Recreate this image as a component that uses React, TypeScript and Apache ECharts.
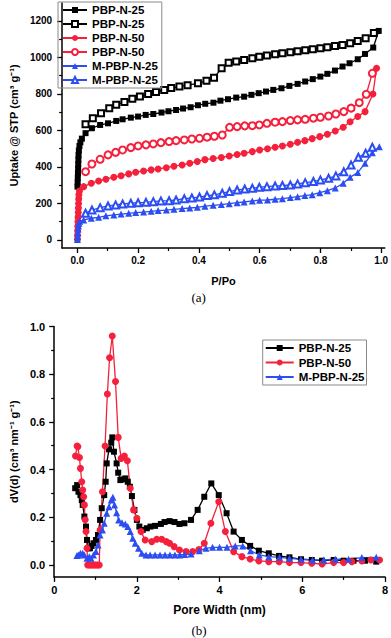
import React, { useEffect, useRef } from 'react';
import * as echarts from 'echarts';

// ---------- (a) N2 isotherms: relative pressure P/Po and uptake (cm3/g) ----------
const pbp25AdsP = [0.0005, 0.001, 0.0015, 0.002, 0.0025, 0.003, 0.0035, 0.004, 0.005, 0.007, 0.01, 0.015,
  0.027, 0.048, 0.075, 0.101, 0.128, 0.149, 0.176, 0.2, 0.225, 0.25, 0.277, 0.3, 0.325, 0.348, 0.373, 0.397, 0.421, 0.448,
  0.471, 0.496, 0.523, 0.549, 0.573, 0.597, 0.621, 0.645, 0.672, 0.698, 0.725, 0.75, 0.775, 0.8, 0.823, 0.848, 0.873,
  0.896, 0.923, 0.947, 0.974, 0.992];
const pbp25AdsU = [292, 315, 340, 365, 390, 415, 440, 465, 490, 515, 535, 555,
  585, 612, 630, 639, 652, 661, 670, 676, 685, 690, 698, 705, 712, 720, 727, 738, 746, 752,
  763, 771, 780, 785, 795, 804, 813, 822, 831, 844, 855, 868, 881, 895, 910, 928, 950,
  968, 990, 1019, 1054, 1145];

const pbp25DesP = [0.976, 0.949, 0.923, 0.898, 0.873, 0.848, 0.823, 0.8, 0.775, 0.75, 0.725, 0.701, 0.675, 0.651, 0.624,
  0.599, 0.576, 0.549, 0.523, 0.498, 0.475, 0.45, 0.425, 0.397, 0.363, 0.336, 0.309, 0.286, 0.259, 0.233, 0.206, 0.181,
  0.155, 0.128, 0.105, 0.078, 0.051, 0.027];
const pbp25DesU = [1133, 1105, 1090, 1078, 1068, 1063, 1056, 1050, 1045, 1039, 1034, 1028, 1023, 1017, 1010,
  1004, 995, 986, 977, 971, 940, 889, 872, 858, 848, 840, 832, 822, 810, 799, 786, 773,
  756, 740, 722, 694, 667, 634];

const pbp50AdsP = [0.0003, 0.0006, 0.001, 0.0015, 0.002, 0.0025, 0.003, 0.0035, 0.004, 0.0045, 0.005, 0.007,
  0.021, 0.046, 0.07, 0.094, 0.12, 0.144, 0.169, 0.192, 0.218, 0.243, 0.266, 0.293, 0.318,
  0.345, 0.37, 0.395, 0.42, 0.447, 0.474, 0.5, 0.526, 0.549, 0.576, 0.6, 0.626, 0.651, 0.675, 0.701, 0.725, 0.749,
  0.773, 0.798, 0.823, 0.849, 0.875, 0.898, 0.923, 0.947, 0.973, 0.985];
const pbp50AdsU = [3, 25, 50, 75, 100, 125, 150, 175, 200, 225, 248, 268,
  292, 311, 323, 333, 344, 352, 362, 371, 378, 384, 389, 396, 404,
  411, 420, 430, 440, 446, 452, 460, 468, 475, 484, 493, 500, 508, 515, 524, 535, 544,
  555, 566, 579, 597, 617, 648, 676, 703, 800, 941];

const pbp50DesP = [0.971, 0.951, 0.928, 0.901, 0.877, 0.851, 0.827, 0.8, 0.777, 0.75, 0.725, 0.701, 0.675, 0.651, 0.624,
  0.599, 0.576, 0.551, 0.526, 0.501, 0.477, 0.451, 0.427, 0.402, 0.377, 0.352, 0.325, 0.302, 0.275, 0.25, 0.226, 0.2,
  0.176, 0.149, 0.126, 0.101, 0.075, 0.048, 0.027];
const pbp50DesU = [913, 798, 752, 722, 703, 690, 679, 672, 667, 661, 658, 654, 648, 645, 639,
  630, 626, 625, 621, 617, 575, 568, 563, 557, 553, 548, 544, 539, 533, 526, 521, 515,
  506, 493, 480, 466, 442, 416, 374];

const mpbp25AdsP = [0.0003, 0.0008, 0.0015, 0.0025, 0.0035, 0.005, 0.008,
  0.021, 0.046, 0.07, 0.094, 0.12, 0.144, 0.169, 0.192, 0.218, 0.243, 0.266, 0.293, 0.318,
  0.345, 0.37, 0.395, 0.42, 0.447, 0.474, 0.5, 0.526, 0.549, 0.576, 0.6, 0.626, 0.651, 0.675, 0.701, 0.725, 0.749,
  0.773, 0.798, 0.823, 0.849, 0.875, 0.898, 0.923, 0.947, 0.971, 0.994];
const mpbp25AdsU = [3, 20, 40, 60, 78, 92, 102,
  110, 119, 124, 132, 137, 142, 146, 150, 153, 157, 161, 164, 168,
  172, 175, 179, 185, 190, 194, 199, 204, 208, 214, 218, 219, 223, 226, 232, 237, 243,
  248, 259, 270, 285, 311, 344, 369, 420, 478, 511];

const mpbp25DesP = [0.971, 0.949, 0.925, 0.901, 0.877, 0.851, 0.827, 0.8, 0.777, 0.75, 0.725, 0.701, 0.675, 0.651, 0.624,
  0.599, 0.576, 0.551, 0.526, 0.501, 0.477, 0.451, 0.427, 0.402, 0.377, 0.352, 0.325, 0.302, 0.275, 0.25, 0.226, 0.2,
  0.176, 0.149, 0.126, 0.101, 0.075, 0.048, 0.027];
const mpbp25DesU = [508, 475, 453, 411, 374, 351, 338, 329, 320, 314, 307, 301, 298, 296, 292,
  289, 283, 279, 274, 265, 256, 247, 243, 235, 230, 226, 219, 215, 214, 210, 206, 204,
  201, 197, 192, 186, 177, 164, 146];

// ---------- (b) pore size distribution: pore width (nm) and dV(d) ----------
const psd25W = [0.508, 0.555, 0.587, 0.635, 0.667, 0.69, 0.73, 0.77, 0.794, 0.825, 0.865, 0.905, 0.95, 1.01, 1.06, 1.11,
  1.15, 1.21, 1.245, 1.27, 1.325, 1.38, 1.405, 1.445, 1.51, 1.548, 1.6, 1.667, 1.72, 1.78, 1.83, 1.88, 1.94, 2.0, 2.06,
  2.14, 2.24, 2.33, 2.44, 2.58, 2.67, 2.79, 2.91, 3.03, 3.15, 3.31, 3.47, 3.63, 3.8, 3.98, 4.17, 4.34, 4.54, 4.74, 4.95,
  5.19, 5.44, 5.69, 5.97, 6.23, 6.48, 6.76, 7.0, 7.24, 7.52, 7.79];
const psd25V = [0.322, 0.335, 0.307, 0.293, 0.272, 0.252, 0.203, 0.161, 0.105, 0.07, 0.07, 0.08, 0.091, 0.105, 0.126, 0.189,
  0.238, 0.293, 0.349, 0.426, 0.485, 0.513, 0.535, 0.475, 0.426, 0.387, 0.356, 0.359, 0.363, 0.349, 0.328, 0.289, 0.231, 0.189, 0.161,
  0.147, 0.154, 0.161, 0.164, 0.172, 0.18, 0.184, 0.18, 0.172, 0.175, 0.189, 0.231, 0.286, 0.342, 0.293, 0.217, 0.14, 0.105, 0.08, 0.06,
  0.049, 0.038, 0.032, 0.024, 0.021, 0.018, 0.021, 0.018, 0.018, 0.018, 0.014];

const psd50W = [0.516, 0.555, 0.571, 0.61, 0.635, 0.667, 0.69, 0.714, 0.73, 0.75, 0.77, 0.794, 0.81, 0.85, 0.89, 0.93, 0.97,
  1.01, 1.05, 1.09, 1.11, 1.167, 1.23, 1.286, 1.34, 1.405, 1.483, 1.548, 1.62, 1.698, 1.77, 1.84, 1.92, 2.0, 2.1, 2.2, 2.36,
  2.48, 2.6, 2.71, 2.79, 2.9, 3.03, 3.19, 3.35, 3.5, 3.63, 3.79, 3.98, 4.14, 4.34, 4.54, 4.74, 4.95, 5.19, 5.44, 5.69, 5.97,
  6.23, 6.48, 6.76, 7.0, 7.2, 7.44, 7.66, 7.87];
const psd50V = [0.457, 0.499, 0.496, 0.451, 0.405, 0.349, 0.314, 0.286, 0.252, 0.19, 0.14, 0.07, 0, 0, 0, 0, 0,
  0, 0, 0, 0.147, 0.307, 0.499, 0.717, 0.869, 0.96, 0.769, 0.535, 0.447, 0.457, 0.437, 0.322, 0.231, 0.196, 0.14, 0.105, 0.098,
  0.108, 0.108, 0.098, 0.091, 0.077, 0.063, 0.056, 0.056, 0.065, 0.091, 0.175, 0.265, 0.14, 0.056, 0.035, 0.025, 0.017, 0.014, 0.014, 0.01, 0.01,
  0.007, 0.004, 0.01, 0.01, 0.014, 0.017, 0.021, 0.021];

const psdM25W = [0.55, 0.587, 0.635, 0.69, 0.73, 0.794, 0.85, 0.89, 0.95, 1.01, 1.06, 1.11, 1.167, 1.21, 1.27, 1.325, 1.38,
  1.42, 1.46, 1.51, 1.56, 1.64, 1.72, 1.78, 1.84, 1.9, 1.96, 2.04, 2.12, 2.22, 2.32, 2.44, 2.56, 2.68, 2.8, 2.92, 3.04, 3.16,
  3.31, 3.51, 3.67, 3.83, 4.0, 4.18, 4.38, 4.56, 4.75, 4.96, 5.19, 5.45, 5.69, 5.97, 6.25, 6.52, 6.8, 7.12, 7.44, 7.79];
const psdM25V = [0.04, 0.042, 0.049, 0.049, 0.042, 0.028, 0.035, 0.028, 0.042, 0.056, 0.084, 0.126, 0.147, 0.175, 0.217, 0.244, 0.272,
  0.284, 0.252, 0.219, 0.189, 0.177, 0.172, 0.161, 0.14, 0.112, 0.091, 0.07, 0.049, 0.042, 0.042, 0.042, 0.042, 0.042, 0.042, 0.042, 0.042, 0.044,
  0.046, 0.06, 0.07, 0.074, 0.074, 0.074, 0.08, 0.08, 0.06, 0.042, 0.035, 0.032, 0.028, 0.024, 0.021, 0.021, 0.024, 0.024, 0.031, 0.032];

// ---------- tick labels ----------
const isoXMajor = [0, 0.2, 0.4, 0.6, 0.8, 1.0];
const isoXMinor = [0.1, 0.3, 0.5, 0.7, 0.9];
const isoYMajor = [0, 200, 400, 600, 800, 1000, 1200];
const isoYMinor = [100, 300, 500, 700, 900, 1100];
const psdXMajor = [0, 2, 4, 6, 8];
const psdXMinor = [1, 3, 5, 7];
const psdYMajor = [0, 0.2, 0.4, 0.6, 0.8, 1.0];
const psdYMinor = [0.1, 0.3, 0.5, 0.7, 0.9];

const isoNames = ['PBP-N-25 (ads)', 'PBP-N-25 (des)', 'PBP-N-50 (ads)', 'PBP-N-50 (des)', 'M-PBP-N-25 (ads)', 'M-PBP-N-25 (des)'];
const psdNames = ['PBP-N-25', 'PBP-N-50', 'M-PBP-N-25'];

const BLACK = '#000000';
const RED = '#f5203c';
const BLUE = '#2b4df2';
const FONT = 'Arial, "Liberation Sans", Helvetica, sans-serif';
const SERIF = '"Times New Roman", "Liberation Serif", serif';

const zip = (xs: number[], ys: number[]) => xs.map((x, i) => [x, ys[i]]);

function mainAxis(gridIndex: number, min: number, max: number, major: number[], fmt: (v: number) => string, fontSize: number, margin: number, extra: any) {
  return {
    type: 'value', gridIndex, min, max,
    axisLine: { show: true, onZero: false, lineStyle: { color: '#000', width: 1.5 } },
    splitLine: { show: false },
    axisTick: { show: true, length: 5, customValues: major, lineStyle: { color: '#000', width: 1.3 } },
    axisLabel: { show: true, customValues: major, formatter: fmt, color: '#000', fontWeight: 'bold', fontFamily: FONT, fontSize, margin },
    ...extra,
  };
}
function minorAxis(gridIndex: number, min: number, max: number, minor: number[], position: string) {
  return {
    type: 'value', gridIndex, min, max, position,
    axisLine: { show: false, onZero: false },
    splitLine: { show: false },
    axisLabel: { show: false },
    axisTick: { show: true, length: 3, customValues: minor, lineStyle: { color: '#000', width: 1.2 } },
  };
}

function lineSeries(name: string, xi: number, data: number[][], color: string, symbol: string, size: number) {
  const empty = symbol.startsWith('empty');
  return {
    type: 'line', name, xAxisIndex: xi, yAxisIndex: xi, data,
    symbol, symbolSize: size, showSymbol: true, showAllSymbol: true,
    lineStyle: { color, width: 1.3 },
    itemStyle: { color, borderColor: color, borderWidth: empty ? 1 : 0 },
    emphasis: { disabled: true },
  };
}

const legendCommon = {
  orient: 'vertical',
  borderColor: '#8a8a8a', borderWidth: 1,
  itemHeight: 7.5,
  textStyle: { color: '#000', fontWeight: 'bold', fontFamily: FONT, fontSize: 11.5, lineHeight: 13 },
  selectedMode: false,
};

const option: any = {
  animation: false,
  backgroundColor: '#ffffff',
  grid: [
    { left: 54.4, top: 3, width: 331.9, height: 245 },
    { left: 51, top: 326.5, width: 336, height: 250.4 },
  ],
  xAxis: [
    mainAxis(0, -0.05, 1.012, isoXMajor, (v: number) => v.toFixed(1), 10, 7, {
      position: 'bottom', name: 'P/Po', nameLocation: 'middle', nameGap: 27,
      nameTextStyle: { color: '#000', fontWeight: 'bold', fontFamily: FONT, fontSize: 11 },
    }),
    minorAxis(0, -0.05, 1.012, isoXMinor, 'bottom'),
    mainAxis(1, 0, 8, psdXMajor, (v: number) => String(v), 11, 8, {
      position: 'bottom', name: 'Pore Width (nm)', nameLocation: 'middle', nameGap: 27,
      nameTextStyle: { color: '#000', fontWeight: 'bold', fontFamily: FONT, fontSize: 12 },
    }),
    minorAxis(1, 0, 8, psdXMinor, 'bottom'),
  ],
  yAxis: [
    mainAxis(0, -44, 1298, isoYMajor, (v: number) => String(v), 10, 10, {
      position: 'left', name: 'Uptake @ STP (cm³ g⁻¹)', nameLocation: 'middle', nameGap: 38,
      nameTextStyle: { color: '#000', fontWeight: 'bold', fontFamily: FONT, fontSize: 11 },
    }),
    minorAxis(0, -44, 1298, isoYMinor, 'left'),
    mainAxis(1, -0.05, 1.0, psdYMajor, (v: number) => v.toFixed(1), 11, 9, {
      position: 'left', name: 'dV(d) (cm³ nm⁻¹ g⁻¹)', nameLocation: 'middle', nameGap: 35,
      nameTextStyle: { color: '#000', fontWeight: 'bold', fontFamily: FONT, fontSize: 11 },
    }),
    minorAxis(1, -0.05, 1.0, psdYMinor, 'left'),
  ],
  legend: [
    {
      ...legendCommon,
      data: isoNames,
      formatter: (n: string) => n.replace(/ \((ads|des)\)$/, ''),
      left: 58, top: 2, padding: [1.5, 4, 1.5, 4], itemGap: 1, itemWidth: 24,
    },
    {
      ...legendCommon,
      data: psdNames,
      left: 262.7, top: 340, padding: [1.5, 2, 1.5, 2], itemGap: 1.5, itemWidth: 28,
    },
  ],
  graphic: [
    { type: 'text', left: 191.5, top: 291, style: { text: '(a)', fill: '#000', font: `13px ${SERIF}` } },
    { type: 'text', left: 191.5, top: 624, style: { text: '(b)', fill: '#000', font: `13px ${SERIF}` } },
  ],
  series: [
    lineSeries(isoNames[0], 0, zip(pbp25AdsP, pbp25AdsU), BLACK, 'rect', 6),
    lineSeries(isoNames[1], 0, zip(pbp25DesP, pbp25DesU), BLACK, 'emptyRect', 6),
    lineSeries(isoNames[2], 0, zip(pbp50AdsP, pbp50AdsU), RED, 'circle', 7),
    lineSeries(isoNames[3], 0, zip(pbp50DesP, pbp50DesU), RED, 'emptyCircle', 7),
    lineSeries(isoNames[4], 0, zip(mpbp25AdsP, mpbp25AdsU), BLUE, 'triangle', 7),
    lineSeries(isoNames[5], 0, zip(mpbp25DesP, mpbp25DesU), BLUE, 'emptyTriangle', 7),
    lineSeries(psdNames[0], 2, zip(psd25W, psd25V), BLACK, 'rect', 6),
    lineSeries(psdNames[1], 2, zip(psd50W, psd50V), RED, 'circle', 7),
    lineSeries(psdNames[2], 2, zip(psdM25W, psdM25V), BLUE, 'triangle', 7),
  ],
};

export default function App() {
  const ref = useRef<HTMLDivElement>(null);
  useEffect(() => {
    const chart = echarts.init(ref.current!, null, { renderer: 'svg' });
    chart.setOption(option);
    return () => chart.dispose();
  }, []);
  return <div ref={ref} style={{ position: 'absolute', left: 0, top: 0, width: 391, height: 638, background: '#fff' }} />;
}
